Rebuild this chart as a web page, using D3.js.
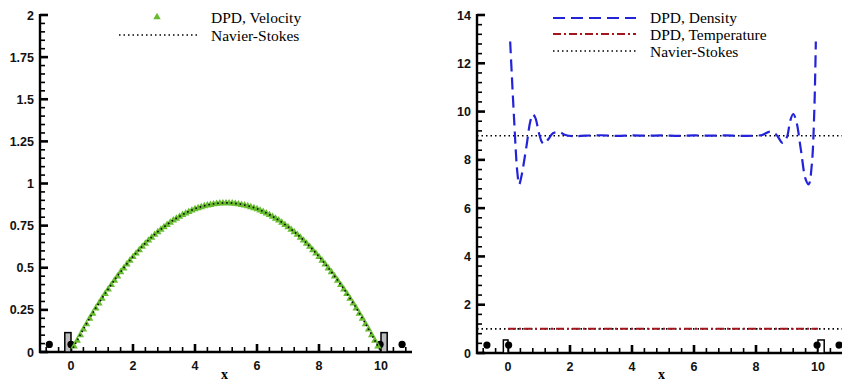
<!DOCTYPE html>
<html>
<head>
<meta charset="utf-8">
<script src="https://d3js.org/d3.v7.min.js"></script>
<style>
  body { margin: 0; background: #fff; }
  .lbl { font-family: "Liberation Sans", Arial, sans-serif; font-size: 12.5px; font-weight: bold; fill: #111; }
  .legend text { font-family: "Liberation Serif", "Times New Roman", serif; font-size: 15.5px; fill: #000; }
</style>
</head>
<body>
<svg id="chart" width="842" height="382"></svg>
<script>
// ---- data ----
var dpdX = [0.1,0.2,0.3,0.4,0.5,0.6,0.7,0.8,0.9,1.0,1.1,1.2,1.3,1.4,1.5,1.6,1.7,1.8,1.9,2.0,
  2.1,2.2,2.3,2.4,2.5,2.6,2.7,2.8,2.9,3.0,3.1,3.2,3.3,3.4,3.5,3.6,3.7,3.8,3.9,4.0,
  4.1,4.2,4.3,4.4,4.5,4.6,4.7,4.8,4.9,5.0,5.1,5.2,5.3,5.4,5.5,5.6,5.7,5.8,5.9,6.0,
  6.1,6.2,6.3,6.4,6.5,6.6,6.7,6.8,6.9,7.0,7.1,7.2,7.3,7.4,7.5,7.6,7.7,7.8,7.9,8.0,
  8.1,8.2,8.3,8.4,8.5,8.6,8.7,8.8,8.9,9.0,9.1,9.2,9.3,9.4,9.5,9.6,9.7,9.8,9.9];
var dpdVelocity = [0.033,0.068,0.101,0.134,0.166,0.198,0.228,0.259,0.288,0.317,0.345,0.372,0.398,0.424,0.449,0.474,0.497,0.520,0.543,0.564,
  0.585,0.605,0.625,0.644,0.662,0.679,0.696,0.712,0.727,0.741,0.755,0.768,0.781,0.792,0.803,0.814,0.823,0.832,0.840,0.848,
  0.854,0.860,0.866,0.870,0.874,0.877,0.880,0.882,0.883,0.883,0.883,0.882,0.880,0.877,0.874,0.870,0.866,0.860,0.854,0.848,
  0.840,0.832,0.823,0.814,0.803,0.792,0.781,0.768,0.755,0.741,0.727,0.712,0.696,0.679,0.662,0.644,0.625,0.605,0.585,0.564,
  0.543,0.520,0.497,0.474,0.449,0.424,0.398,0.372,0.345,0.317,0.288,0.259,0.228,0.198,0.166,0.134,0.101,0.068,0.033];

var nsX = [0,0.5,1,1.5,2,2.5,3,3.5,4,4.5,5,5.5,6,6.5,7,7.5,8,8.5,9,9.5,10];
var nsVelocity = [0,0.168,0.319,0.451,0.566,0.664,0.743,0.805,0.850,0.876,0.885,0.876,0.850,0.805,0.743,0.664,0.566,0.451,0.319,0.168,0];

var densX = [0.07,0.2,0.3,0.36,0.43,0.6,0.72,0.8,0.88,1.0,1.1,1.16,1.3,1.45,1.65,1.85,2.1,2.5,3,3.5,4,4.5,5,
  5.5,6,6.5,7,7.5,7.9,8.2,8.45,8.65,8.86,9.0,9.1,9.2,9.3,9.45,9.6,9.7,9.8,9.88,9.93];
var density = [12.9,9.6,7.5,6.98,7.3,8.6,9.6,9.88,9.75,9.1,8.72,8.66,8.85,9.1,9.15,9.03,8.98,9.0,9.02,8.99,9.01,9.0,9.01,
  8.99,9.01,9.0,9.01,8.99,9.0,9.03,9.17,9.05,8.7,8.95,9.6,9.9,9.6,8.4,7.2,6.98,7.8,10.0,12.9];

var tempX = [0, 10];
var temperature = [1.0, 1.0];
var nsDensity = 9, nsTemperature = 1;

var xTicks = [0,2,4,6,8,10];
var velTicks = [0,0.25,0.5,0.75,1,1.25,1.5,1.75,2];
var rightTicks = [0,2,4,6,8,10,12,14];

// wall particles and wall boxes (x, y)
var leftDots = [[-0.7,0.045],[0,0.045],[9.97,0.045],[10.68,0.045]];
var rightDots = [[-0.68,0.33],[0.02,0.33],[9.97,0.33],[10.68,0.33]];
var leftBoxes = [[-0.2,0,0.115],[10.0,10.2,0.115]];
var rightBoxes = [[-0.15,0,0.54],[10.0,10.2,0.54]];

var svg = d3.select('#chart');

function panel(opt) {
  var g = svg.append('g');
  var x = d3.scaleLinear().domain([-1, 11]).range(opt.xr);
  var y = d3.scaleLinear().domain(opt.yd).range(opt.yr);
  var x0 = opt.xr[0], y0 = opt.yr[0];

  var xMinor = d3.range(-0.8, 11, 0.4).filter(function(v) { return Math.abs(v / 2 - Math.round(v / 2)) > 0.01; });
  var yMinor = d3.range(opt.yd[0], opt.yd[1], opt.minorStep).filter(function(v) {
    return Math.abs(v / opt.majorStep - Math.round(v / opt.majorStep)) > 0.01; });

  // axis lines
  g.append('path').attr('d', 'M' + x0 + ',' + (opt.yr[1] - 1) + 'V' + y0 + 'H' + opt.xr[1])
    .attr('fill', 'none').attr('stroke', '#000').attr('stroke-width', 2.4);

  // ticks drawn inward
  g.selectAll('.xmin').data(xMinor).enter().append('line')
    .attr('x1', function(d) { return x(d); }).attr('x2', function(d) { return x(d); })
    .attr('y1', y0).attr('y2', y0 - 5).attr('stroke', '#000').attr('stroke-width', 1.6);
  g.selectAll('.ymin').data(yMinor).enter().append('line')
    .attr('y1', function(d) { return y(d); }).attr('y2', function(d) { return y(d); })
    .attr('x1', x0).attr('x2', x0 + 5).attr('stroke', '#000').attr('stroke-width', 1.6);
  g.selectAll('.xmaj').data(xTicks).enter().append('line')
    .attr('x1', function(d) { return x(d); }).attr('x2', function(d) { return x(d); })
    .attr('y1', y0).attr('y2', y0 - 8).attr('stroke', '#000').attr('stroke-width', 2.6);
  g.selectAll('.ymaj').data(opt.yTicks).enter().append('line')
    .attr('y1', function(d) { return y(d); }).attr('y2', function(d) { return y(d); })
    .attr('x1', x0).attr('x2', x0 + 8).attr('stroke', '#000').attr('stroke-width', 2.6);

  // tick labels
  g.selectAll('.xl').data(xTicks).enter().append('text').attr('class', 'lbl')
    .attr('x', function(d) { return x(d); }).attr('y', y0 + 18).attr('text-anchor', 'middle')
    .text(function(d) { return d; });
  g.selectAll('.yl').data(opt.yTicks).enter().append('text').attr('class', 'lbl')
    .attr('x', x0 - 6).attr('y', function(d) { return y(d); }).attr('dy', '0.36em').attr('text-anchor', 'end')
    .text(function(d) { return d3.format('')(d); });

  g.append('text').attr('x', x(4.95)).attr('y', 379)
    .attr('text-anchor', 'middle')
    .style('font-family', '"Liberation Serif", serif').style('font-weight', 'bold').style('font-size', '14px')
    .text('x');

  // wall boxes
  g.selectAll('.box').data(opt.boxes).enter().append('rect')
    .attr('x', function(d) { return x(d[0]); })
    .attr('width', function(d) { return x(d[1]) - x(d[0]); })
    .attr('y', function(d) { return y(d[2]); })
    .attr('height', function(d) { return y(0) - y(d[2]); })
    .attr('fill', opt.boxFill).attr('stroke', '#000').attr('stroke-width', 1.5);

  g.selectAll('.dot').data(opt.dots).enter().append('circle')
    .attr('cx', function(d) { return x(d[0]); })
    .attr('cy', function(d) { return y(d[1]); })
    .attr('r', 3.6).attr('fill', '#000');

  return { g: g, x: x, y: y };
}

// ---- left panel: velocity ----
var L = panel({ xr: [40, 412], yd: [0, 2], yr: [352, 15], yTicks: velTicks, majorStep: 0.25, minorStep: 0.05,
  boxes: leftBoxes, dots: leftDots, boxFill: '#bdbdbd' });

var tri = d3.symbol().type(d3.symbolTriangle).size(24);
L.g.selectAll('.tri').data(dpdX).enter().append('path')
  .attr('d', tri)
  .attr('transform', function(d, i) { return 'translate(' + L.x(d) + ',' + L.y(dpdVelocity[i]) + ')'; })
  .attr('fill', '#66bb2e');

var nsLine = d3.line().x(function(d) { return L.x(d); })
  .y(function(d, i) { return L.y(nsVelocity[i]); }).curve(d3.curveNatural);
L.g.append('path').datum(nsX).attr('d', nsLine)
  .attr('fill', 'none').attr('stroke', '#000').attr('stroke-width', 1.6).attr('stroke-dasharray', '1.5,3');

var legL = svg.append('g').attr('class', 'legend');
legL.append('path').attr('d', tri).attr('transform', 'translate(157,17)').attr('fill', '#66bb2e');
legL.append('line').attr('x1', 119).attr('x2', 197).attr('y1', 35).attr('y2', 35)
  .attr('stroke', '#000').attr('stroke-width', 1.6).attr('stroke-dasharray', '1.5,3');
legL.append('text').attr('x', 211).attr('y', 23).text('DPD, Velocity');
legL.append('text').attr('x', 211).attr('y', 41).text('Navier-Stokes');

// ---- right panel: density / temperature ----
var R = panel({ xr: [477, 849], yd: [0, 14], yr: [353, 15], yTicks: rightTicks, majorStep: 2, minorStep: 0.4,
  boxes: rightBoxes, dots: rightDots, boxFill: '#fff' });

[nsDensity, nsTemperature].forEach(function(v) {
  R.g.append('line').attr('x1', R.x(-1)).attr('x2', R.x(11)).attr('y1', R.y(v)).attr('y2', R.y(v))
    .attr('stroke', '#000').attr('stroke-width', 1.6).attr('stroke-dasharray', '1.5,3');
});

var tLine = d3.line().x(function(d) { return R.x(d); }).y(function(d, i) { return R.y(temperature[i]); });
R.g.append('path').datum(tempX).attr('d', tLine)
  .attr('fill', 'none').attr('stroke', '#a3141e').attr('stroke-width', 2).attr('stroke-dasharray', '8,3,2,3');

var dLine = d3.line().x(function(d) { return R.x(d); })
  .y(function(d, i) { return R.y(density[i]); }).curve(d3.curveCatmullRom);
R.g.append('path').datum(densX).attr('d', dLine)
  .attr('fill', 'none').attr('stroke', '#2323d9').attr('stroke-width', 2.2).attr('stroke-dasharray', '12,6');

var legR = svg.append('g').attr('class', 'legend');
legR.append('line').attr('x1', 553).attr('x2', 636).attr('y1', 18).attr('y2', 18)
  .attr('stroke', '#2323d9').attr('stroke-width', 2.2).attr('stroke-dasharray', '12,6');
legR.append('line').attr('x1', 553).attr('x2', 636).attr('y1', 34).attr('y2', 34)
  .attr('stroke', '#a3141e').attr('stroke-width', 2).attr('stroke-dasharray', '8,3,2,3');
legR.append('line').attr('x1', 553).attr('x2', 636).attr('y1', 51).attr('y2', 51)
  .attr('stroke', '#000').attr('stroke-width', 1.6).attr('stroke-dasharray', '1.5,3');
legR.append('text').attr('x', 650).attr('y', 23).text('DPD, Density');
legR.append('text').attr('x', 650).attr('y', 40).text('DPD, Temperature');
legR.append('text').attr('x', 650).attr('y', 57).text('Navier-Stokes');
</script>
</body>
</html>
